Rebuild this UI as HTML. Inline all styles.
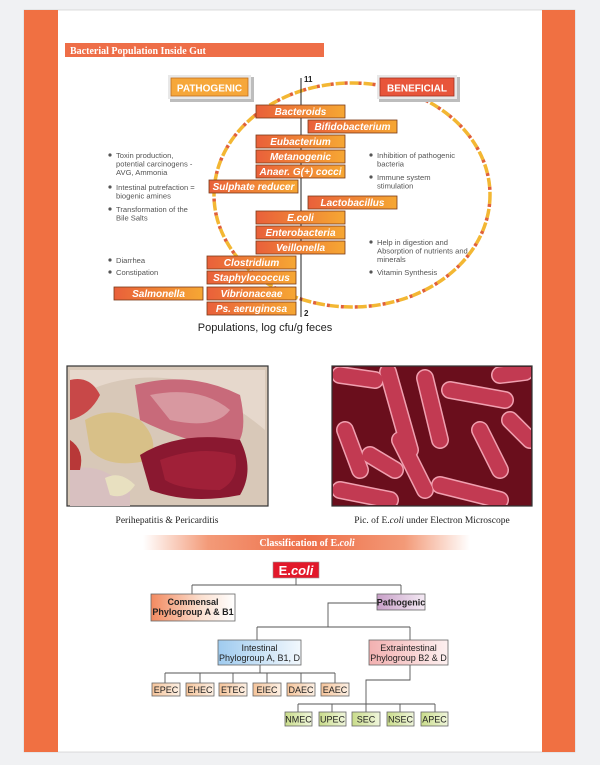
<!DOCTYPE html>
<html><head><meta charset="utf-8"><style>
html,body{margin:0;padding:0;background:#f0f1f3;}
svg{display:block;}
text{font-family:"Liberation Sans",sans-serif;}
.bt{font-size:10px;font-weight:bold;font-style:italic;fill:#fff;text-anchor:middle;}
.sm{font-size:7.6px;fill:#555;}
.ser{font-family:"Liberation Serif",serif;}
.cl{font-size:9px;fill:#222;text-anchor:middle;}
</style></head><body>
<svg width="600" height="765" viewBox="0 0 600 765" xmlns="http://www.w3.org/2000/svg">
<defs>
<linearGradient id="bar" x1="0" x2="1"><stop offset="0" stop-color="#e9603a"/><stop offset="1" stop-color="#f6a733"/></linearGradient>
<linearGradient id="hdr" x1="0" x2="1"><stop offset="0" stop-color="#fff"/><stop offset="0.2" stop-color="#f39a78"/><stop offset="0.5" stop-color="#ee6e48"/><stop offset="0.8" stop-color="#f39a78"/><stop offset="1" stop-color="#fff"/></linearGradient>
<linearGradient id="comm" x1="0" x2="1"><stop offset="0" stop-color="#f28a60"/><stop offset="0.6" stop-color="#fbe0d0"/><stop offset="1" stop-color="#fff"/></linearGradient>
<linearGradient id="path" x1="0" x2="1"><stop offset="0" stop-color="#c8a0c8"/><stop offset="1" stop-color="#f4eaf4"/></linearGradient>
<linearGradient id="intes" x1="0" x2="1"><stop offset="0" stop-color="#9fcbef"/><stop offset="1" stop-color="#f2f8fd"/></linearGradient>
<linearGradient id="extra" x1="0" x2="1"><stop offset="0" stop-color="#f2b0b0"/><stop offset="1" stop-color="#fdf0f0"/></linearGradient>
<linearGradient id="sub1" x1="0" x2="1"><stop offset="0" stop-color="#f5c49a"/><stop offset="1" stop-color="#fdf0e4"/></linearGradient>
<linearGradient id="sub2" x1="0" x2="1"><stop offset="0" stop-color="#c9dc8a"/><stop offset="1" stop-color="#f0f6dc"/></linearGradient>
<radialGradient id="rod" cx="0.5" cy="0.5" r="0.5"><stop offset="0" stop-color="#d04a60"/><stop offset="1" stop-color="#a82038"/></radialGradient>
</defs>
<!-- page -->
<rect x="24" y="10" width="551" height="742" fill="#fff" stroke="#c8c8c8" stroke-width="0.6"/>
<rect x="24" y="10" width="34" height="742" fill="#f07042"/>
<rect x="542" y="10" width="33" height="742" fill="#f07042"/>
<!-- title -->
<rect x="65" y="43" width="259" height="14" fill="#ee6e48"/>
<text x="70" y="54" class="ser" font-size="10" font-weight="bold" fill="#fff">Bacterial Population Inside Gut</text>
<!-- ellipse -->
<ellipse cx="352" cy="195" rx="138" ry="112" fill="none" stroke="#f3b733" stroke-width="3.5" stroke-dasharray="9 5"/>
<ellipse cx="352" cy="195" rx="138" ry="112" fill="none" stroke="#e0603a" stroke-width="3.5" stroke-dasharray="3 11" stroke-dashoffset="-9"/>
<!-- axis -->
<line x1="301" y1="78" x2="301" y2="317" stroke="#222" stroke-width="1"/>
<text x="304" y="82" font-size="8" font-weight="bold" fill="#222">11</text>
<text x="304" y="316" font-size="8" font-weight="bold" fill="#222">2</text>
<!-- headers -->
<rect x="170" y="77" width="84" height="25" fill="#bdbdbd"/>
<rect x="168" y="75" width="83" height="24" fill="#e8e8e8"/>
<rect x="171" y="78" width="77" height="18" fill="#f6a73a" stroke="#c07020" stroke-width="0.8"/>
<text x="209.5" y="91.5" font-size="10" font-weight="bold" fill="#fff" text-anchor="middle">PATHOGENIC</text>
<rect x="379" y="77" width="81" height="25" fill="#bdbdbd"/>
<rect x="377" y="75" width="80" height="24" fill="#e8e8e8"/>
<rect x="380" y="78" width="74" height="18" fill="#e8553a" stroke="#a03020" stroke-width="0.8"/>
<text x="417" y="91.5" font-size="10" font-weight="bold" fill="#fff" text-anchor="middle">BENEFICIAL</text>
<!-- bars -->
<g stroke="#7a3a18" stroke-width="0.8">
<rect x="256" y="105" width="89" height="13" fill="url(#bar)"/>
<rect x="308" y="120" width="89" height="13" fill="url(#bar)"/>
<rect x="256" y="135" width="89" height="13" fill="url(#bar)"/>
<rect x="256" y="150" width="89" height="13" fill="url(#bar)"/>
<rect x="256" y="165" width="89" height="13" fill="url(#bar)"/>
<rect x="209" y="180" width="89" height="13" fill="url(#bar)"/>
<rect x="308" y="196" width="89" height="13" fill="url(#bar)"/>
<rect x="256" y="211" width="89" height="13" fill="url(#bar)"/>
<rect x="256" y="226" width="89" height="13" fill="url(#bar)"/>
<rect x="256" y="241" width="89" height="13" fill="url(#bar)"/>
<rect x="207" y="256" width="89" height="13" fill="url(#bar)"/>
<rect x="207" y="271" width="89" height="13" fill="url(#bar)"/>
<rect x="207" y="287" width="89" height="13" fill="url(#bar)"/>
<rect x="114" y="287" width="89" height="13" fill="url(#bar)"/>
<rect x="207" y="302" width="89" height="13" fill="url(#bar)"/>
</g>
<text x="300.5" y="115" class="bt">Bacteroids</text>
<text x="352.5" y="130" class="bt">Bifidobacterium</text>
<text x="300.5" y="145" class="bt">Eubacterium</text>
<text x="300.5" y="160" class="bt">Metanogenic</text>
<text x="300.5" y="175" class="bt">Anaer. G(+) cocci</text>
<text x="253.5" y="190" class="bt">Sulphate reducer</text>
<text x="352.5" y="206" class="bt">Lactobacillus</text>
<text x="300.5" y="221" class="bt">E.coli</text>
<text x="300.5" y="236" class="bt">Enterobacteria</text>
<text x="300.5" y="251" class="bt">Veillonella</text>
<text x="251.5" y="266" class="bt">Clostridium</text>
<text x="251.5" y="281" class="bt">Staphylococcus</text>
<text x="251.5" y="297" class="bt">Vibrionaceae</text>
<text x="158.5" y="297" class="bt">Salmonella</text>
<text x="251.5" y="312" class="bt">Ps. aeruginosa</text>
<!-- left bullets -->
<g fill="#555">
<circle cx="110" cy="155" r="1.6"/><circle cx="110" cy="187" r="1.6"/><circle cx="110" cy="209" r="1.6"/>
<circle cx="110" cy="260" r="1.6"/><circle cx="110" cy="272" r="1.6"/>
<circle cx="371" cy="155" r="1.6"/><circle cx="371" cy="177" r="1.6"/><circle cx="371" cy="242" r="1.6"/><circle cx="371" cy="272" r="1.6"/>
</g>
<text class="sm" x="116" y="158">Toxin production,</text>
<text class="sm" x="116" y="166.5">potential carcinogens -</text>
<text class="sm" x="116" y="175">AVG, Ammonia</text>
<text class="sm" x="116" y="190">Intestinal putrefaction =</text>
<text class="sm" x="116" y="198.5">biogenic amines</text>
<text class="sm" x="116" y="212">Transformation of the</text>
<text class="sm" x="116" y="220.5">Bile Salts</text>
<text class="sm" x="116" y="263">Diarrhea</text>
<text class="sm" x="116" y="275">Constipation</text>
<text class="sm" x="377" y="158">Inhibition of pathogenic</text>
<text class="sm" x="377" y="166.5">bacteria</text>
<text class="sm" x="377" y="180">Immune system</text>
<text class="sm" x="377" y="188.5">stimulation</text>
<text class="sm" x="377" y="245">Help in digestion and</text>
<text class="sm" x="377" y="253.5">Absorption of nutrients and</text>
<text class="sm" x="377" y="262">minerals</text>
<text class="sm" x="377" y="275">Vitamin Synthesis</text>
<text x="265" y="331" font-size="11" fill="#222" text-anchor="middle">Populations, log cfu/g feces</text>
<!-- left photo -->
<g>
<rect x="67" y="366" width="201" height="140" fill="#d8c8b8" stroke="#333" stroke-width="1.2"/>
<path d="M70 370 L265 370 L265 430 Q230 400 180 380 Q120 370 70 400Z" fill="#e6d8cc"/>
<path d="M135 385 Q190 370 240 395 Q250 440 230 450 Q180 440 140 420Z" fill="#c86a7a"/>
<path d="M150 395 Q200 385 230 410 Q215 430 170 420Z" fill="#d898a0"/>
<path d="M85 420 Q110 405 140 420 Q160 440 150 460 Q110 470 90 450Z" fill="#d8c088"/>
<path d="M140 455 Q180 430 240 440 Q255 470 240 495 Q190 505 150 490Z" fill="#8a1830"/>
<path d="M160 460 Q200 445 235 455 Q240 480 220 490 Q180 490 165 480Z" fill="#a02038"/>
<path d="M70 380 Q90 375 100 395 Q90 415 70 420Z" fill="#c84848"/>
<path d="M70 470 Q100 460 130 490 L130 506 L70 506Z" fill="#d8c0c0"/>
<path d="M105 478 Q120 470 135 485 Q125 500 110 495Z" fill="#e8e0c0"/>
<path d="M70 440 Q85 450 80 470 L70 470Z" fill="#b83838"/>
</g>
<!-- right photo -->
<g>
<rect x="332" y="366" width="200" height="140" fill="#6a0e1c" stroke="#333" stroke-width="1.2"/>
<clipPath id="cp"><rect x="333" y="367" width="198" height="138"/></clipPath>
<g clip-path="url(#cp)" stroke-linecap="round" fill="none">
<g stroke="#f0a0b0" stroke-width="18">
<line x1="340" y1="375" x2="375" y2="380"/><line x1="388" y1="372" x2="410" y2="450"/><line x1="425" y1="378" x2="440" y2="440"/>
<line x1="450" y1="390" x2="505" y2="400"/><line x1="345" y1="430" x2="360" y2="470"/><line x1="400" y1="440" x2="425" y2="490"/>
<line x1="440" y1="485" x2="500" y2="500"/><line x1="480" y1="430" x2="500" y2="470"/><line x1="370" y1="455" x2="395" y2="470"/>
<line x1="340" y1="490" x2="390" y2="500"/><line x1="510" y1="420" x2="530" y2="440"/><line x1="500" y1="375" x2="525" y2="372"/>
</g>
<g stroke="#c23a52" stroke-width="15">
<line x1="340" y1="375" x2="375" y2="380"/><line x1="388" y1="372" x2="410" y2="450"/><line x1="425" y1="378" x2="440" y2="440"/>
<line x1="450" y1="390" x2="505" y2="400"/><line x1="345" y1="430" x2="360" y2="470"/><line x1="400" y1="440" x2="425" y2="490"/>
<line x1="440" y1="485" x2="500" y2="500"/><line x1="480" y1="430" x2="500" y2="470"/><line x1="370" y1="455" x2="395" y2="470"/>
<line x1="340" y1="490" x2="390" y2="500"/><line x1="510" y1="420" x2="530" y2="440"/><line x1="500" y1="375" x2="525" y2="372"/>
</g>
</g>
</g>
<text x="167" y="523" class="ser" font-size="9.5" fill="#222" text-anchor="middle">Perihepatitis &amp; Pericarditis</text>
<text x="432" y="523" class="ser" font-size="9.5" fill="#222" text-anchor="middle">Pic. of E.<tspan font-style="italic">coli</tspan> under Electron Microscope</text>
<!-- classification -->
<rect x="143" y="535" width="327" height="15" fill="url(#hdr)"/>
<text x="307" y="546" class="ser" font-size="10" font-weight="bold" fill="#fff" text-anchor="middle">Classification of E.<tspan font-style="italic">coli</tspan></text>
<rect x="273" y="562" width="46" height="16" fill="#e2182a" stroke="#999" stroke-width="0.6"/>
<text x="296" y="575" font-size="13" font-weight="bold" fill="#fff" text-anchor="middle">E.<tspan font-style="italic">coli</tspan></text>
<g stroke="#555" stroke-width="0.9" fill="none">
<path d="M296 578 V585 M192 585 H401 M192 585 V594 M401 585 V594"/>
<path d="M377 603 H328 V627 M257 627 H410 M257 627 V640 M410 627 V640"/>
<path d="M260 665 V673 M165 673 H335 M165 673 V683 M200 673 V683 M233 673 V683 M267 673 V683 M301 673 V683 M335 673 V683"/>
<path d="M410 665 V680 H366 V704 M298 704 H435 M298 704 V712 M332 704 V712 M366 704 V712 M400 704 V712 M435 704 V712"/>
</g>
<g stroke="#666" stroke-width="0.8">
<rect x="151" y="594" width="84" height="27" fill="url(#comm)"/>
<rect x="377" y="594" width="48" height="16" fill="url(#path)"/>
<rect x="218" y="640" width="83" height="25" fill="url(#intes)"/>
<rect x="369" y="640" width="79" height="25" fill="url(#extra)"/>
<rect x="152" y="683" width="28" height="13" fill="url(#sub1)"/>
<rect x="186" y="683" width="28" height="13" fill="url(#sub1)"/>
<rect x="219" y="683" width="28" height="13" fill="url(#sub1)"/>
<rect x="253" y="683" width="28" height="13" fill="url(#sub1)"/>
<rect x="287" y="683" width="28" height="13" fill="url(#sub1)"/>
<rect x="321" y="683" width="28" height="13" fill="url(#sub1)"/>
<rect x="285" y="712" width="27" height="14" fill="url(#sub2)"/>
<rect x="319" y="712" width="27" height="14" fill="url(#sub2)"/>
<rect x="352" y="712" width="28" height="14" fill="url(#sub2)"/>
<rect x="387" y="712" width="27" height="14" fill="url(#sub2)"/>
<rect x="421" y="712" width="27" height="14" fill="url(#sub2)"/>
</g>
<text x="193" y="605" class="cl" font-weight="bold">Commensal</text>
<text x="193" y="615" class="cl" font-weight="bold">Phylogroup A &amp; B1</text>
<text x="401" y="605.5" class="cl" font-weight="bold">Pathogenic</text>
<text x="259.5" y="651" class="cl">Intestinal</text>
<text x="259.5" y="661" class="cl">Phylogroup A, B1, D</text>
<text x="408.5" y="651" class="cl">Extraintestinal</text>
<text x="408.5" y="661" class="cl">Phylogroup B2 &amp; D</text>
<g class="cl">
<text x="166" y="693" class="cl">EPEC</text><text x="200" y="693" class="cl">EHEC</text><text x="233" y="693" class="cl">ETEC</text>
<text x="267" y="693" class="cl">EIEC</text><text x="301" y="693" class="cl">DAEC</text><text x="335" y="693" class="cl">EAEC</text>
<text x="298.5" y="722.5" class="cl">NMEC</text><text x="332.5" y="722.5" class="cl">UPEC</text><text x="366" y="722.5" class="cl">SEC</text>
<text x="400.5" y="722.5" class="cl">NSEC</text><text x="434.5" y="722.5" class="cl">APEC</text>
</g>
</svg>
</body></html>
